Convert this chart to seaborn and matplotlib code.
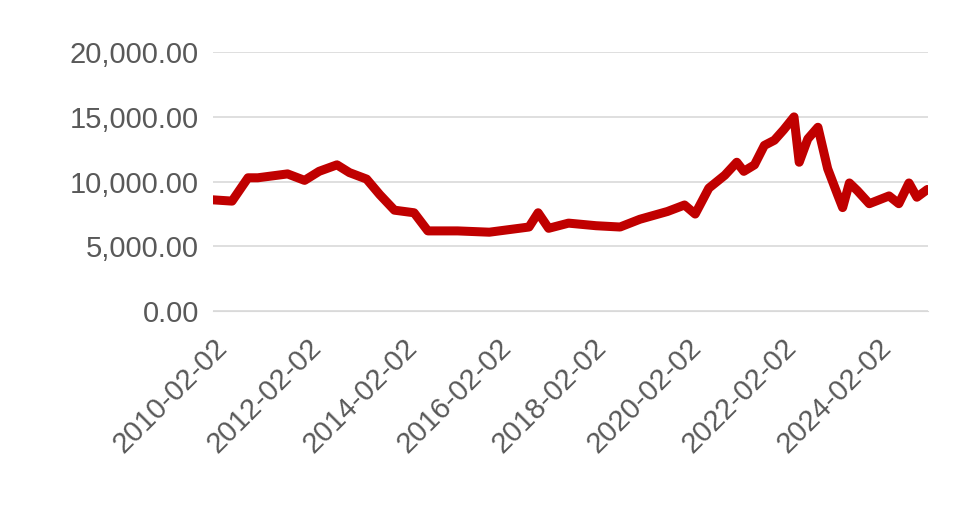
import pandas as pd
import numpy as np
import seaborn as sns
import matplotlib
matplotlib.use('Agg')
import matplotlib.pyplot as plt
from matplotlib.ticker import FuncFormatter

# values
dates = ['2010-02-02', '2010-07-01', '2010-11-01', '2011-01-15', '2011-09-01', '2012-01-10',
         '2012-05-01', '2012-09-15', '2012-12-20', '2013-05-01', '2013-08-10', '2013-12-01',
         '2014-05-01', '2014-08-15', '2015-04-01', '2015-12-01', '2016-05-01', '2016-10-01',
         '2016-12-10', '2017-03-01', '2017-08-01', '2018-03-01', '2018-09-01', '2019-02-01',
         '2019-09-01', '2020-01-10', '2020-04-01', '2020-07-15', '2020-11-15', '2021-02-15',
         '2021-04-10', '2021-07-01', '2021-09-15', '2021-12-01', '2022-02-10', '2022-05-01',
         '2022-06-10', '2022-08-15', '2022-11-01', '2023-01-15', '2023-04-01', '2023-05-10',
         '2023-07-01', '2023-09-01', '2023-12-01', '2024-02-15', '2024-05-01', '2024-07-15',
         '2024-10-01', '2024-12-01', '2025-02-20']
price = [8600, 8500, 10300, 10300, 10600, 10100,
         10800, 11300, 10700, 10200, 9000, 7800,
         7600, 6200, 6200, 6100, 6300, 6500,
         7600, 6400, 6800, 6600, 6500, 7100,
         7700, 8200, 7500, 9500, 10500, 11500,
         10800, 11300, 12800, 13200, 14000, 15000,
         11500, 13300, 14200, 11000, 9000, 8000,
         9900, 9300, 8300, 8600, 8900, 8300,
         9900, 8800, 9400]

df = pd.DataFrame({'date': pd.to_datetime(dates), 'price': price})

sns.set_style('white')
plt.rcParams['font.family'] = ['Liberation Sans', 'DejaVu Sans']
grey = '#595959'

fig = plt.figure(figsize=(9.8, 5.32), dpi=100)
ax = fig.add_axes([0.217, 0.415, 0.730, 0.487])
sns.lineplot(data=df, x='date', y='price', color='#c00000', linewidth=6.5, ax=ax)

ax.set_ylim(0, 20000)
ax.set_yticks([0, 5000, 10000, 15000, 20000])
ax.yaxis.set_major_formatter(FuncFormatter(lambda v, p: f'{v:,.2f}'))
ax.set_xlim(pd.Timestamp('2010-02-02'), pd.Timestamp('2025-02-25'))
ticks = pd.to_datetime([f'{y}-02-02' for y in range(2010, 2026, 2)])
ax.set_xticks(ticks)
ax.set_xticklabels([t.strftime('%Y-%m-%d') for t in ticks], rotation=45, ha='right',
                   rotation_mode='anchor')
ax.tick_params(axis='both', labelsize=21, colors=grey, length=0, pad=10)
ax.tick_params(axis='x', length=6, color='#d9d9d9', width=1)
ax.grid(axis='y', color='#d9d9d9', linewidth=1.2)
for s in ['top', 'right', 'left']:
    ax.spines[s].set_visible(False)
ax.spines['bottom'].set_color('#d9d9d9')
ax.set_xlabel('')
ax.set_ylabel('')

fig.savefig('out.png', dpi=100)
